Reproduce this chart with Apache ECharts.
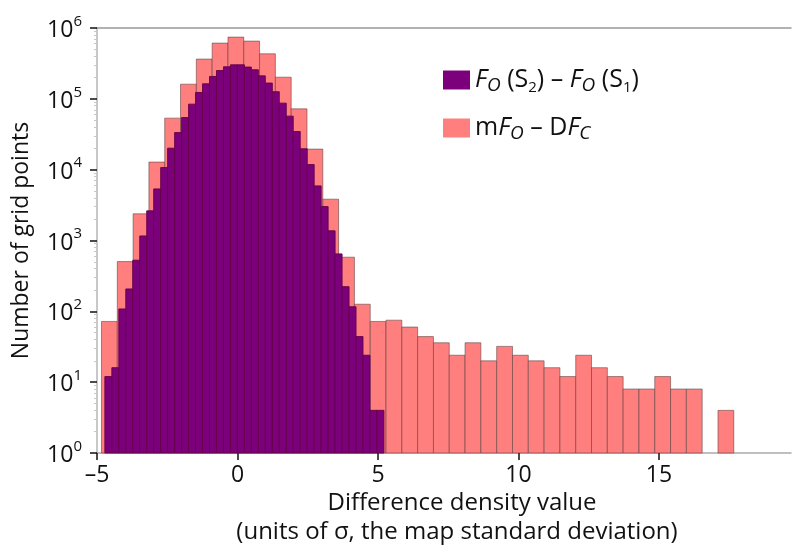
<!DOCTYPE html>
<html>
<head>
<meta charset="utf-8">
<script src="https://cdn.jsdelivr.net/npm/echarts@6/dist/echarts.min.js"></script>
<style>html,body{margin:0;padding:0;background:#fff}#c{width:794px;height:550px}</style>
</head>
<body>
<div id="c"></div>
<script>
// Histogram 1: mFo - DFc (40 bins)
const mfStart = -4.84;
const mfWidth = 0.5626;
const mfCounts = [72, 504, 2380, 12800, 53400, 161000, 364000, 612000, 744000, 653000,
  432000, 202000, 72200, 19500, 3830, 581, 126, 72, 75, 60,
  44, 36, 24, 36, 20, 32, 24, 20, 16, 12,
  24, 16, 12, 8, 8, 12, 8, 8, 0, 4];
// Histogram 2: Fo(S2) - Fo(S1) (40 bins)
const foStart = -4.72;
const foWidth = 0.2483;
const foCounts = [12, 16, 108, 207, 527, 1160, 2620, 5350, 10700, 20100,
  33400, 54400, 84100, 123000, 163000, 207000, 251000, 283000, 302000, 302000,
  281000, 257000, 211000, 167000, 126000, 86900, 57000, 34500, 19700, 11800,
  5900, 3010, 1370, 647, 223, 116, 44, 24, 4, 4];
const xTicks = [-5, 0, 5, 10, 15];
const seriesNames = ['Fo(S2)-Fo(S1)', 'mFo-DFc'];
const xTitle = ['Difference density value', '(units of σ, the map standard deviation)'];
const yTitle = 'Number of grid points';

function bins(start, width, counts) {
  const out = [];
  counts.forEach((c, i) => { if (c > 0) out.push([start + i * width, start + (i + 1) * width, c]); });
  return out;
}
function renderItem(params, api) {
  const p0 = api.coord([api.value(0), api.value(2)]);
  const p1 = api.coord([api.value(1), 1]);
  return { type: 'rect', shape: { x: p0[0], y: p0[1], width: p1[0] - p0[0], height: p1[1] - p0[1] }, style: api.style() };
}
const FONT = 'Open Sans';
const chart = echarts.init(document.getElementById('c'), null, { renderer: 'canvas' });
chart.setOption({
  animation: false,
  textStyle: { fontFamily: FONT, color: '#111' },
  grid: { left: 97, right: 3, top: 28, bottom: 97 },
  legend: {
    data: seriesNames, orient: 'vertical', left: 438, top: 60,
    itemWidth: 27, itemHeight: 19, itemGap: 18, icon: 'rect',
    itemStyle: { borderWidth: 0 },
    textStyle: {
      fontFamily: FONT, fontSize: 25, color: '#111', lineHeight: 30,
      rich: {
        i: { fontFamily: FONT, fontSize: 25, fontStyle: 'italic', color: '#111', lineHeight: 30 },
        o: { fontFamily: FONT, fontSize: 19, fontStyle: 'italic', color: '#111', lineHeight: 24, verticalAlign: 'bottom' },
        d: { fontFamily: FONT, fontSize: 15, color: '#111', lineHeight: 18, verticalAlign: 'bottom' }
      }
    },
    formatter: function (n) {
      if (n === seriesNames[0]) return '{i|F}{o|O} (S{d|2}) – {i|F}{o|O} (S{d|1})';
      return 'm{i|F}{o|O} – D{i|F}{o|C}';
    }
  },
  xAxis: [{
    type: 'value', min: -5, max: 19.7, interval: 5,
    axisLine: { show: true, onZero: false, lineStyle: { color: '#aaa', width: 1.5 } },
    axisTick: { show: true, length: 7, customValues: xTicks, lineStyle: { color: '#111', width: 1.5 } },
    axisLabel: { customValues: xTicks, margin: 11, fontSize: 23, color: '#111', fontFamily: FONT,
      formatter: v => v < 0 ? '–' + Math.abs(v) : String(v) },
    splitLine: { show: false }
  }, {
    type: 'value', position: 'top', min: -5, max: 19.7, interval: 5,
    axisLine: { show: true, onZero: false, lineStyle: { color: '#999', width: 1.5 } },
    axisTick: { show: false },
    axisLabel: { show: false }, splitLine: { show: false }
  }],
  yAxis: {
    type: 'log', logBase: 10, min: 1, max: 1e6, position: 'left',
    name: yTitle, nameLocation: 'middle', nameGap: 64,
    nameTextStyle: { fontSize: 23, color: '#111', fontFamily: FONT },
    axisLine: { show: true, onZero: false, lineStyle: { color: '#c8c8c8', width: 2 } },
    axisTick: { show: true, length: 7, lineStyle: { color: '#111', width: 1.5 } },
    minorTick: { show: true, splitNumber: 9, length: 3, lineStyle: { color: '#c8c8c8' } },
    axisLabel: {
      margin: 15, fontFamily: FONT, color: '#111',
      formatter: v => '{b|10}{s|' + Math.round(Math.log10(v)) + '}',
      rich: {
        b: { fontSize: 23, fontFamily: FONT, color: '#111', lineHeight: 28, verticalAlign: 'bottom' },
        s: { fontSize: 15, fontFamily: FONT, color: '#111', lineHeight: 15, verticalAlign: 'top' }
      }
    },
    splitLine: { show: false }
  },
  graphic: [
    { type: 'text', x: 462, y: 503, style: { text: xTitle[0], font: '24px "Open Sans"', fill: '#111', textAlign: 'center', textVerticalAlign: 'middle' } },
    { type: 'text', x: 457, y: 532, style: { text: xTitle[1], font: '24px "Open Sans"', fill: '#111', textAlign: 'center', textVerticalAlign: 'middle' } }
  ],
  series: [{
    name: seriesNames[1], type: 'custom', renderItem: renderItem, z: 2,
    encode: { x: [0, 1], y: 2 },
    itemStyle: { color: '#ff7f7f', borderColor: 'rgba(90,60,60,0.55)', borderWidth: 1 },
    data: bins(mfStart, mfWidth, mfCounts)
  }, {
    name: seriesNames[0], type: 'custom', renderItem: renderItem, z: 3,
    encode: { x: [0, 1], y: 2 },
    itemStyle: { color: '#7c007c', borderColor: 'rgba(100,0,70,0.9)', borderWidth: 1 },
    data: bins(foStart, foWidth, foCounts)
  }]
});
</script>
</body>
</html>
